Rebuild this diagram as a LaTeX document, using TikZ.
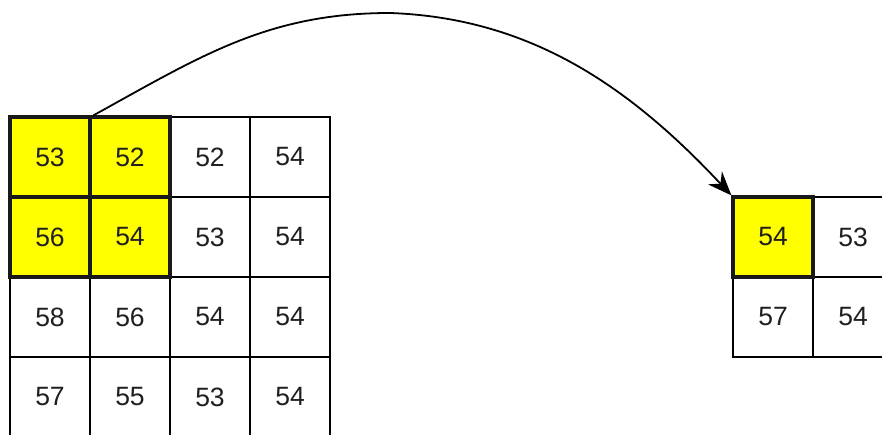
\documentclass[tikz,border=0pt]{standalone}
\usepackage{fontspec}
\setmainfont{Liberation Sans}
\usetikzlibrary{arrows.meta}
\definecolor{hotfill}{RGB}{255,255,0}
\tikzset{
  cell/.style={draw=black, line width=1.7pt, fill=white, minimum size=80pt, inner sep=0pt, font=\fontsize{26.5}{26.5}\selectfont, text=black!88},
  hot/.style={cell, fill=hotfill, draw=black!90, line width=3.2pt},
  link/.style={line width=1.8pt, -{Stealth[length=24pt,width=19pt,inset=8pt]}}
}
\begin{document}
\begin{tikzpicture}[x=1pt,y=-1pt]
\useasboundingbox (0,0) rectangle (882,435);
\clip (0,0) rectangle (882,435);
% left grid, plain cells
\node[cell] (L13) at (210,157) {52};
\node[cell] (L14) at (290,157) {54};
\node[cell] (L23) at (210,237) {53};
\node[cell] (L24) at (290,237) {54};
\node[cell] (L31) at (50,317) {58};
\node[cell] (L32) at (130,317) {56};
\node[cell] (L33) at (210,317) {54};
\node[cell] (L34) at (290,317) {54};
\node[cell] (L41) at (50,397) {57};
\node[cell] (L42) at (130,397) {55};
\node[cell] (L43) at (210,397) {53};
\node[cell] (L44) at (290,397) {54};
% left grid, highlighted cells
\node[hot] (L11) at (50,157) {53};
\node[hot] (L12) at (130,157) {52};
\node[hot] (L21) at (50,237) {56};
\node[hot] (L22) at (130,237) {54};
% right grid
\node[cell] (R12) at (853,237) {53};
\node[cell] (R21) at (773,317) {57};
\node[cell] (R22) at (853,317) {54};
\node[hot] (R11) at (773,237) {54};
% connector
\coordinate (peak) at (390,13);
\draw[link] ([xshift=5pt]L12.north west) .. controls (201,56) and (268,13) .. (peak)
  .. controls (530,18) and (629,86) .. (R11.north west);
\end{tikzpicture}
\end{document}
